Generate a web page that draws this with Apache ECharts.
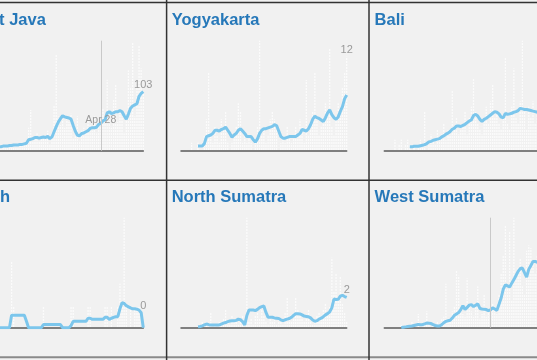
<!DOCTYPE html>
<html><head><meta charset="utf-8">
<script src="https://cdn.jsdelivr.net/npm/echarts@6/dist/echarts.min.js"></script>
<style>html,body{margin:0;padding:0;background:#f1f1f1;overflow:hidden}#c{width:537px;height:360px}</style>
</head><body><div id="c"></div><script>
// Dates: Mar 1 .. May 18
const monthNames = ['Mar', 'Apr', 'May'];
const monthLengths = [31, 30, 18];
const dates = [];
monthNames.forEach((m, k) => { for (let d = 1; d <= monthLengths[k]; d++) dates.push(m + ' ' + d); });

const regionNames = ['East Java', 'Yogyakarta', 'Bali', 'Aceh', 'North Sumatra', 'West Sumatra'];
const axisMax = [192, 14, 20, 5, 36, 40];
const markerDates = ['Apr 28', null, null, null, null, 'Apr 20'];
const markerLabels = ['Apr 28', null, null, null, null, null];
const endLabels = [103, 12, null, 0, 2, null];

const eastJavaAvg = [null,null,null,null,2,3,4,5,6,6,
 7,7,8,8,8,9,9,10,10,10,
 11,11,12,13,19,20,21,23,23,22,
 23,24,23,25,21,24,33,42,50,56,
 61,59,58,57,55,44,34,27,26,30,
 31,33,35,39,40,40,41,46,48,52,
 54,66,68,65,66,68,68,70,68,61,
 55,64,74,78,80,82,95,100,103];
const eastJavaDaily = [0,0,0,0,3,2,5,4,8,6,
 7,9,6,10,8,12,7,11,10,13,
 9,14,12,15,40,71,18,22,30,15,
 26,20,28,35,12,30,80,167,60,45,
 55,40,58,50,65,20,25,60,18,35,
 40,30,55,45,35,60,30,50,42,75,
 55,124,70,40,90,115,50,75,60,30,
 65,140,110,188,60,120,185,144,103];

const yogyaAvg = [null,null,null,null,null,null,null,null,0.6,0.6,
 0.6,0.9,1.8,1.9,2.0,2.2,2.6,2.6,2.5,2.7,
 2.8,3.0,2.6,2.2,1.7,2.0,2.2,2.6,2.8,2.5,
 2.2,1.8,1.8,1.8,1.4,1.1,1.5,2.2,2.6,2.8,
 2.8,2.9,3.0,3.1,3.3,3.2,2.5,1.8,1.6,1.6,
 1.7,1.8,1.8,1.8,1.8,2.0,2.2,2.7,2.6,2.5,
 2.8,3.3,4.0,4.4,4.2,4.1,3.9,3.7,4.2,4.8,
 5.2,4.6,4.2,4.0,4.3,5.0,5.6,6.6,7.1];
const yogyaDaily = [0,0,0,0,0,1,0,0,1,0,
 0,2,4,10,2,1,3,2,1,4,
 3,5,1,0,1,2,3,6,5,1,
 2,1,2,1,0,1,3,14,2,3,
 1,2,4,5,4,3,0,1,2,1,
 3,2,1,2,3,2,4,3,1,9,
 2,3,5,10,4,2,3,4,6,5,
 13,3,2,4,6,5,8,10,12];

const baliAvg = [null,null,null,null,null,null,null,null,null,null,
 null,null,0.7,0.7,0.8,0.8,0.8,0.9,1.0,1.1,
 1.3,1.6,1.7,1.9,2.0,2.1,2.2,2.5,2.7,3.0,
 3.2,3.5,3.9,4.1,4.5,4.5,4.4,4.6,4.8,5.1,
 5.4,5.6,6.4,6.6,6.3,5.7,5.3,5.7,5.9,6.2,
 6.5,6.8,7.1,7.0,6.7,6.1,6.0,6.8,6.6,6.7,
 6.8,7.0,7.1,7.3,7.7,7.6,7.5,7.5,7.4,7.3,
 7.2,7.1,7.0,6.9,7.0,7.1,7.2,7.3,7.4];
const baliDaily = [0,0,0,0,0,2,0,1,2,0,
 1,2,1,0,1,0,1,2,1,7,
 0,1,3,2,1,4,2,3,5,2,
 4,3,11,4,6,3,4,5,7,3,
 6,8,13,7,5,4,3,6,8,5,
 9,12,6,7,5,4,6,17,5,4,
 8,15,6,5,9,20,7,4,8,6,
 9,5,7,10,6,8,9,7,8];

const acehAvg = [0,0,0,0,0,0,0,0,0,0,
 0,0,0,0,0,0,0.57,0.57,0.57,0.57,
 0.57,0.57,0.57,0.29,0,0,0,0,0,0,
 0,0.14,0.14,0.14,0.14,0.14,0.14,0.14,0.14,0.14,
 0,0,0,0,0.1,0.29,0.29,0.29,0.29,0.29,
 0.29,0.29,0.43,0.43,0.38,0.38,0.38,0.38,0.38,0.38,
 0.47,0.47,0.38,0.43,0.47,0.5,0.5,0.86,1.14,1.1,
 1.0,0.95,0.9,0.86,0.86,0.84,0.8,0.68,0];
const acehDaily = [0,0,0,0,0,0,0,0,0,0,
 0,0,0,0,0,0,3,1,0,0,
 0,0,0,0,0,0,0,0,0,0,
 0,1,0,0,0,0,0,0,0,0,
 0,0,0,0,1,1,0,0,0,0,
 0,0,1,1,0,0,0,0,0,0,
 1,1,0,1,0,0,1,2,1,5,
 1,0,1,0,1,1,1,0,0];

const northSumatraAvg = [null,null,null,null,null,null,null,null,0.3,0.4,
 0.6,0.9,1.2,1.0,0.9,0.9,0.9,0.9,0.9,1.2,
 1.5,1.7,2.0,2.2,2.3,2.3,2.4,2.8,2.6,2.0,
 0.9,4.0,5.8,5.8,5.8,5.6,6.0,6.6,6.9,7.1,
 5.0,3.4,3.4,3.4,3.2,3.1,3.0,2.6,2.3,2.6,
 2.8,3.0,3.4,4.0,4.6,4.6,4.5,4.2,3.8,3.7,
 3.6,3.2,2.5,2.1,2.3,2.8,3.1,3.6,4.2,4.6,
 5.2,6.5,9.4,9.2,9.3,10.3,10.6,10.2,9.9];
const northSumatraDaily = [0,0,0,0,0,0,0,0,1,0,
 2,1,2,1,5,0,1,0,2,1,
 3,6,2,1,4,2,3,1,2,4,
 0,36,2,3,1,4,5,3,6,4,
 2,1,3,2,4,1,3,2,1,5,
 10,3,2,5,10,6,4,3,2,4,
 6,2,1,3,4,5,3,6,8,5,
 7,23,12,18,9,17,8,5,2];

const westSumatraAvg = [null,null,null,null,null,null,null,null,0.1,0.2,
 0.3,0.4,0.5,0.6,0.8,1.0,1.2,1.1,1.1,1.4,
 1.7,1.6,1.5,1.1,0.8,0.6,0.6,1.1,1.8,2.3,
 2.5,2.7,3.5,4.5,5.0,5.5,6.6,8.0,6.6,7.4,
 8.2,8.4,7.7,8.2,8.7,7.0,6.8,6.7,6.6,6.2,
 6.5,7.2,6.8,6.3,8.5,10.8,14.0,15.6,15.2,14.8,
 16.2,17.5,19.0,20.5,21.5,21.7,20.0,18.4,21.2,22.6,
 24.1,24.1,23.8,24.5,25.0,25.5,26.0,26.3,26.5];
const westSumatraDaily = [0,0,0,0,0,0,0,0,1,0,
 1,0,1,2,0,1,5,0,1,2,
 6,1,0,1,0,2,1,3,4,16,
 2,3,6,8,21,19,7,5,4,18,
 9,6,4,8,15,3,5,12,4,6,
 3,9,7,5,12,20,26,37,14,35,
 10,40,18,22,25,15,12,28,30,29,
 24,20,26,30,22,28,25,30,27];

const avgSeries = [eastJavaAvg, yogyaAvg, baliAvg, acehAvg, northSumatraAvg, westSumatraAvg];
const dailySeries = [eastJavaDaily, yogyaDaily, baliDaily, acehDaily, northSumatraDaily, westSumatraDaily];

// layout
const colLeft = [-22.4, 181, 384.3];
const colTitleX = [-30.3, 171.7, 374.6];
const rowTop = [40.7, 217.7];
const rowTitleY = [12, 189.3];
const plotW = 165.7, plotH = 110;

const grids = [], xAxes = [], yAxes = [], series = [], graphics = [];
for (let k = 0; k < 6; k++) {
  const c = k % 3, r = Math.floor(k / 3);
  grids.push({left: colLeft[c], top: rowTop[r], width: plotW, height: plotH, containLabel: false, outerBoundsMode: 'none'});
  xAxes.push({type: 'category', gridIndex: k, data: dates, boundaryGap: false,
    axisLine: {show: true, lineStyle: {color: '#5a5a5a', width: 1.5}},
    axisTick: {show: false}, axisLabel: {show: false}, splitLine: {show: false}});
  yAxes.push({type: 'value', gridIndex: k, min: 0, max: axisMax[k], show: false, splitLine: {show: false}});
  series.push({type: 'custom', xAxisIndex: k, yAxisIndex: k, silent: true, z: 1,
    data: dailySeries[k].map((v, i) => [i, v]),
    renderItem: (params, api) => {
      const v = api.value(1);
      if (!v) return null;
      const p0 = api.coord([api.value(0), 0]);
      const p1 = api.coord([api.value(0), v]);
      return {type: 'line', shape: {x1: p0[0], y1: p0[1] - 1, x2: p1[0], y2: p1[1]},
        style: {stroke: '#ffffff', lineWidth: 1.3, lineDash: [1.5, 1.5], opacity: 0.95}};
    }});
  const avg = avgSeries[k];
  const n = avg.length;
  const mp = [];
  if (markerLabels[k]) {
    const idx = dates.indexOf(markerDates[k]);
    mp.push({coord: [idx, avg[idx]], symbolSize: 0,
      label: {show: true, formatter: markerLabels[k], position: 'inside', offset: [0, -3], color: '#9a9a9a', fontSize: 10.5}});
  }
  if (endLabels[k] !== null) {
    const anchor = Math.max(endLabels[k], avg[n - 2]);
    mp.push({coord: [n - 1, anchor], symbolSize: 0,
      label: {show: true, formatter: String(endLabels[k]), position: 'top', distance: 1, color: '#9a9a9a', fontSize: 11}});
  }
  series.push({type: 'line', xAxisIndex: k, yAxisIndex: k, data: avg, symbol: 'none', z: 3,
    lineStyle: {color: '#7cc6ec', width: 3}, connectNulls: false,
    markLine: markerDates[k] ? {silent: true, symbol: 'none', label: {show: false},
      lineStyle: {color: '#c9c9c9', width: 1, type: 'solid'}, data: [{xAxis: markerDates[k]}]} : undefined,
    markPoint: mp.length ? {symbol: 'circle', symbolSize: 0, itemStyle: {color: 'transparent'}, data: mp} : undefined});
  graphics.push({type: 'text', x: colTitleX[c], y: rowTitleY[r], z: 10,
    style: {text: regionNames[k], fill: '#2678b9', font: 'bold 16.5px "Liberation Sans", Arial, sans-serif', verticalAlign: 'top'}});
}
// cell borders
const borderLines = [
  [0, 2.6, 537, 2.6, '#333', 1.5],
  [0, 180.3, 537, 180.3, '#333', 1.5],
  [0, 357.3, 537, 357.3, '#8a8a8a', 2],
  [166.6, 0, 166.6, 360, '#333', 1.5],
  [369, 0, 369, 360, '#333', 1.5]
];
borderLines.forEach(b => graphics.push({type: 'line', z: 20, shape: {x1: b[0], y1: b[1], x2: b[2], y2: b[3]}, style: {stroke: b[4], lineWidth: b[5]}}));

const chart = echarts.init(document.getElementById('c'), null, {renderer: 'canvas'});
chart.setOption({backgroundColor: '#f1f1f1', animation: false, grid: grids, xAxis: xAxes, yAxis: yAxes, series: series, graphic: graphics});
</script></body></html>
